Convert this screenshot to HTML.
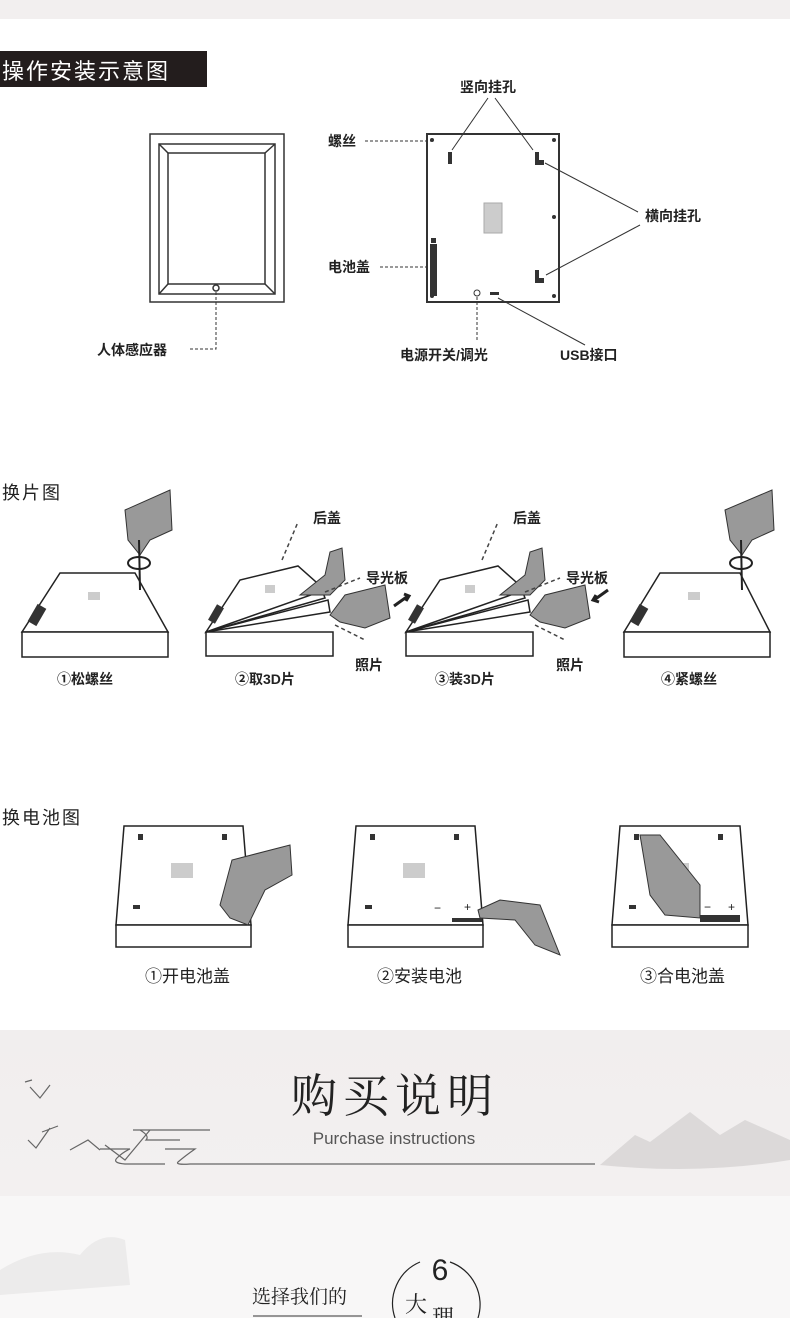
<!DOCTYPE html>
<html><head><meta charset="utf-8"><style>
html,body{margin:0;padding:0;background:#fff;}
body{width:790px;height:1318px;overflow:hidden;position:relative;font-family:"Liberation Sans","Noto Sans CJK SC",sans-serif;}
svg{position:absolute;left:0;top:0;}
</style></head><body>
<svg width="790" height="1318" viewBox="0 0 790 1318" font-family="'Liberation Sans','Noto Sans CJK SC',sans-serif">
<defs>
<linearGradient id="bg2" x1="0" y1="0" x2="0" y2="1"><stop offset="0" stop-color="#f1eeee"/><stop offset="1" stop-color="#f3f0f0"/></linearGradient>
</defs>
<rect x="0" y="0" width="790" height="19" fill="#f2efef"/>
<rect x="0" y="51" width="207" height="36" fill="#231d1d"/>
<text x="2" y="79" font-size="22" fill="#fff" letter-spacing="2">操作安装示意图</text>

<g fill="none" stroke="#333" stroke-width="1.5">
<rect x="150" y="134" width="134" height="168"/>
<rect x="159" y="144" width="116" height="150"/>
<rect x="168" y="153" width="97" height="131"/>
<line x1="159" y1="144" x2="168" y2="153"/><line x1="275" y1="144" x2="265" y2="153"/>
<line x1="159" y1="294" x2="168" y2="284"/><line x1="275" y1="294" x2="265" y2="284"/>
<circle cx="216" cy="288" r="3"/>
</g>
<path d="M216 292 V349 H190" fill="none" stroke="#333" stroke-dasharray="3,2"/>
<text x="97" y="355" font-size="14" font-weight="bold" fill="#222">人体感应器</text>

<rect x="427" y="134" width="132" height="168" stroke="#333" stroke-width="2" fill="none"/>
<g fill="#333">
<circle cx="432" cy="140" r="2"/><circle cx="554" cy="140" r="2"/><circle cx="432" cy="296" r="2"/><circle cx="554" cy="296" r="2"/><circle cx="554" cy="217" r="2"/>
<rect x="448" y="152" width="4" height="12"/>
<path d="M535 152h4v8h5v5h-9z"/>
<path d="M535 270h4v8h5v5h-9z"/>
<rect x="430" y="244" width="7" height="52"/>
<rect x="431" y="238" width="5" height="5"/>
<circle cx="477" cy="293" r="3" fill="none" stroke="#333"/>
<rect x="490" y="292" width="9" height="3"/>
</g>
<rect x="484" y="203" width="18" height="30" fill="#ccc" stroke="#aaa"/>
<g fill="none" stroke="#333" stroke-width="1">
<path d="M365 141 H432" stroke-dasharray="3,2"/>
<path d="M380 267 H430" stroke-dasharray="3,2"/>
<path d="M477 297 V340" stroke-dasharray="3,2"/>
<line x1="452" y1="150" x2="488" y2="98"/><line x1="495" y1="98" x2="533" y2="150"/>
<line x1="545" y1="163" x2="638" y2="212"/><line x1="640" y1="225" x2="546" y2="275"/>
<line x1="498" y1="298" x2="585" y2="345"/>
</g>
<g font-size="14" font-weight="bold" fill="#222">
<text x="460" y="92">竖向挂孔</text>
<text x="328" y="146">螺丝</text>
<text x="328" y="272">电池盖</text>
<text x="645" y="221">横向挂孔</text>
<text x="400" y="360">电源开关/调光</text>
<text x="560" y="360">USB接口</text>
</g>

<text x="2" y="499" font-size="18" fill="#222" letter-spacing="2">换片图</text>
<g fill="#fff" stroke="#222" stroke-width="1.5">
<path d="M60 573 L135 573 L168 632 L22 632 Z"/>
<rect x="22" y="632" width="146" height="25"/>
<path d="M660 573 L740 573 L770 632 L624 632 Z"/>
<rect x="624" y="632" width="146" height="25"/>
<rect x="206" y="632" width="127" height="24"/>
<path d="M206 632 L330 612 L328 600 L206 632Z"/>
<path d="M206 632 L325 598 L320 585 Z"/>
<path d="M206 632 L240 580 L298 566 L325 590 Z"/>
<rect x="406" y="632" width="127" height="24"/>
<path d="M406 632 L530 612 L528 600 Z"/>
<path d="M406 632 L525 598 L520 585 Z"/>
<path d="M406 632 L440 580 L498 566 L525 590 Z"/>
</g>
<g fill="#333">
<rect x="32" y="605" width="10" height="20" transform="rotate(30 37 615)"/>
<rect x="212" y="605" width="8" height="18" transform="rotate(30 216 614)"/>
<rect x="412" y="605" width="8" height="18" transform="rotate(30 416 614)"/>
<rect x="634" y="605" width="10" height="20" transform="rotate(30 639 615)"/>
</g>
<g fill="#ccc"><rect x="88" y="592" width="12" height="8"/><rect x="688" y="592" width="12" height="8"/><rect x="265" y="585" width="10" height="8"/><rect x="465" y="585" width="10" height="8"/></g>
<g fill="#999" stroke="#333" stroke-width="1">
<path d="M125 510 L170 490 L172 530 L150 540 L140 555 L128 540 Z"/>
<path d="M725 510 L772 490 L774 530 L752 540 L742 555 L730 540 Z"/>
<path d="M300 595 L325 575 L330 552 L342 548 L345 580 L330 595 Z"/>
<path d="M500 595 L525 575 L530 552 L542 548 L545 580 L530 595 Z"/>
<path d="M330 615 L345 595 L385 585 L390 618 L365 628 L340 622 Z"/>
<path d="M530 615 L545 595 L585 585 L590 618 L565 628 L540 622 Z"/>
</g>
<g fill="none" stroke="#222" stroke-width="2">
<ellipse cx="139" cy="563" rx="11" ry="6"/><ellipse cx="741" cy="563" rx="11" ry="6"/>
<line x1="139" y1="540" x2="140" y2="590"/><line x1="741" y1="540" x2="742" y2="590"/>
</g>
<g fill="none" stroke="#444" stroke-width="1.5" stroke-dasharray="4,3">
<path d="M282 560 L298 522"/><path d="M482 560 L498 522"/>
<path d="M325 592 L360 578"/><path d="M525 592 L560 578"/>
<path d="M335 625 L365 640"/><path d="M535 625 L565 640"/>
</g>
<path d="M394 606 L408 596 M404 594 L409 596 L406 601" stroke="#222" stroke-width="3" fill="none"/>
<path d="M608 590 L594 600 M596 595 L593 600 L599 602" stroke="#222" stroke-width="3" fill="none"/>
<g font-size="14" font-weight="bold" fill="#222">
<text x="313" y="523">后盖</text><text x="513" y="523">后盖</text>
<text x="366" y="583">导光板</text><text x="566" y="583">导光板</text>
<text x="355" y="670">照片</text><text x="556" y="670">照片</text>
<text x="57" y="684">①松螺丝</text>
<text x="235" y="684">②取3D片</text>
<text x="435" y="684">③装3D片</text>
<text x="661" y="684">④紧螺丝</text>
</g>

<text x="2" y="824" font-size="18" fill="#222" letter-spacing="2">换电池图</text>
<g fill="#fff" stroke="#222" stroke-width="1.5">
<path d="M124 826 L243 826 L251 925 L116 925 Z"/><rect x="116" y="925" width="135" height="22"/>
<path d="M356 826 L475 826 L483 925 L348 925 Z"/><rect x="348" y="925" width="135" height="22"/>
<path d="M620 826 L740 826 L748 925 L612 925 Z"/><rect x="612" y="925" width="136" height="22"/>
</g>
<g fill="#333">
<rect x="138" y="834" width="5" height="6"/><rect x="222" y="834" width="5" height="6"/><rect x="133" y="905" width="7" height="4"/>
<rect x="370" y="834" width="5" height="6"/><rect x="454" y="834" width="5" height="6"/><rect x="365" y="905" width="7" height="4"/>
<rect x="634" y="834" width="5" height="6"/><rect x="718" y="834" width="5" height="6"/><rect x="629" y="905" width="7" height="4"/>
<rect x="452" y="918" width="30" height="4"/><rect x="700" y="915" width="40" height="7"/>
</g>
<g fill="#ccc"><rect x="171" y="863" width="22" height="15"/><rect x="403" y="863" width="22" height="15"/><rect x="667" y="863" width="22" height="15"/></g>
<g fill="#999" stroke="#333" stroke-width="1">
<path d="M220 905 L232 860 L290 845 L292 875 L265 890 L248 925 L230 918 Z"/>
<path d="M478 910 L500 900 L540 905 L560 955 L535 945 L515 920 L480 918 Z"/>
<path d="M640 835 L660 835 L700 885 L700 918 L665 915 L650 895 Z"/>
</g>
<g font-size="12" fill="#222"><text x="434" y="912">−</text><text x="464" y="911">+</text><text x="704" y="911">−</text><text x="728" y="911">+</text></g>
<g font-size="17" fill="#222">
<text x="145" y="982">①开电池盖</text>
<text x="377" y="982">②安装电池</text>
<text x="640" y="982">③合电池盖</text>
</g>

<rect x="0" y="1030" width="790" height="166" fill="url(#bg2)"/>
<rect x="0" y="1196" width="790" height="122" fill="#f8f7f7"/>
<path d="M600 1165 L635 1135 L650 1142 L690 1112 L720 1135 L745 1120 L790 1140 L790 1160 Q700 1175 600 1165Z" fill="#d6d3d3" opacity="0.8"/>
<path d="M0 1270 Q40 1245 80 1255 Q100 1230 125 1240 L130 1285 L0 1295Z" fill="#ecebeb"/>
<text x="395" y="1112" font-size="46" text-anchor="middle" fill="#222" font-family="'Noto Serif CJK SC',serif" letter-spacing="6">购买说明</text>
<text x="394" y="1144" font-size="17" text-anchor="middle" fill="#555">Purchase instructions</text>
<g fill="none" stroke="#666" stroke-width="1.2">
<path d="M100 1149 H130 Q123 1152 117 1158 Q112 1163 125 1164 H165"/>
<path d="M165 1149 H195 Q185 1156 178 1162 Q175 1165 190 1164 H595"/>
<path d="M133 1130 H210 M140 1130 Q150 1136 146 1140 H180"/>
<path d="M28 1140 L36 1148 L50 1128 M42 1132 L58 1126 M70 1150 L88 1140 L100 1150 M105 1145 L125 1160 L150 1130"/>
<path d="M30 1087 L40 1098 L50 1085 M25 1082 L32 1080"/>
</g>
<text x="252" y="1303" font-size="19" fill="#222" font-family="'Noto Serif CJK SC',serif">选择我们的</text>
<line x1="253" y1="1316" x2="362" y2="1316" stroke="#333"/>
<path d="M395 1318 A45 45 0 0 1 420 1262 M450 1262 A45 45 0 0 1 478 1318" fill="none" stroke="#222" stroke-width="1.2"/>
<text x="440" y="1280" font-size="30" text-anchor="middle" fill="#222">6</text>
<text x="405" y="1312" font-size="22" fill="#222" font-family="'Noto Serif CJK SC',serif">大</text>
<text x="432" y="1325" font-size="22" fill="#222" font-family="'Noto Serif CJK SC',serif">理</text>
</svg>
</body></html>
